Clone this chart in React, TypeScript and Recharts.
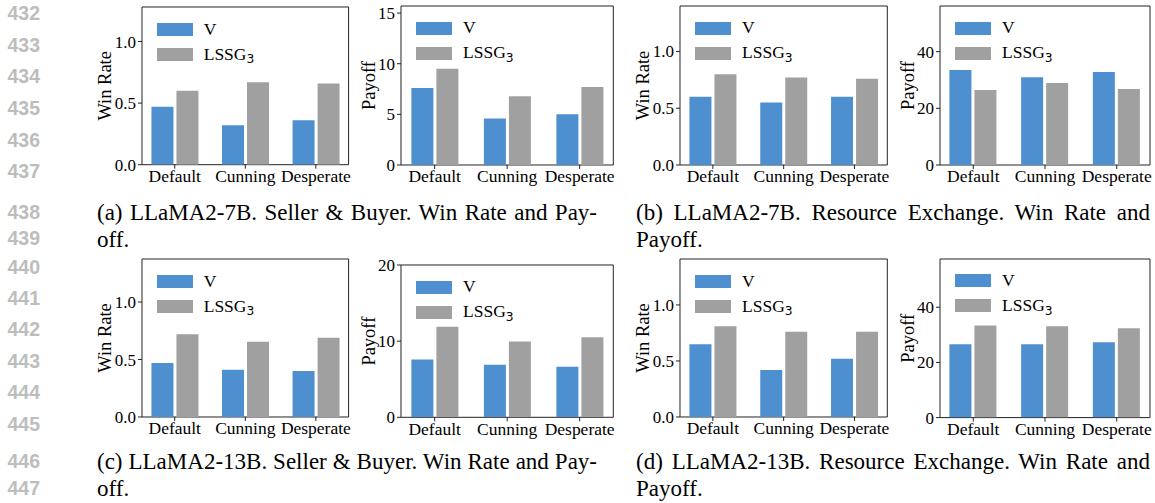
import React from "react";
import { BarChart, Bar, XAxis, YAxis, ReferenceArea, Legend } from "recharts";

// categories shared by every panel
const CATEGORIES = ["Default", "Cunning", "Desperate"];

// (a) LLaMA2-7B, Seller & Buyer
const A_WIN_V = [0.47, 0.32, 0.36];
const A_WIN_L = [0.6, 0.67, 0.66];
const A_PAY_V = [7.6, 4.6, 5.0];
const A_PAY_L = [9.5, 6.8, 7.7];

// (b) LLaMA2-7B, Resource Exchange
const B_WIN_V = [0.6, 0.55, 0.6];
const B_WIN_L = [0.8, 0.77, 0.76];
const B_PAY_V = [33.5, 31.0, 32.8];
const B_PAY_L = [26.5, 28.9, 26.8];

// (c) LLaMA2-13B, Seller & Buyer
const C_WIN_V = [0.47, 0.41, 0.4];
const C_WIN_L = [0.72, 0.655, 0.69];
const C_PAY_V = [7.6, 6.9, 6.65];
const C_PAY_L = [11.9, 9.95, 10.5];

// (d) LLaMA2-13B, Resource Exchange
const D_WIN_V = [0.65, 0.42, 0.52];
const D_WIN_L = [0.81, 0.76, 0.76];
const D_PAY_V = [26.6, 26.6, 27.3];
const D_PAY_L = [33.4, 33.1, 32.4];

const WIN_TICKS = [0, 0.5, 1.0];
const SERIES_ORDER = ["V", "LSSG3"];

const LINE_NUMBERS = ["432", "433", "434", "435", "436", "437", "438", "439", "440", "441", "442", "443", "444", "445", "446", "447"];
const LINE_Y = [13, 45, 76, 108, 140, 171, 212, 238, 267, 298, 329, 361, 392, 424, 461, 488];

const BLUE = "#4e8fcf";
const GRAY = "#a0a0a0";
const SERIF = "'Liberation Serif', 'Times New Roman', serif";

// matplotlib-like x limits around 3 bar groups
const X_MIN = -0.464;
const X_MAX = 2.464;

const renderLegend = (props: any) => {
  const items = [...(props.payload || [])].sort(
    (a: any, b: any) => SERIES_ORDER.indexOf(a.value) - SERIES_ORDER.indexOf(b.value)
  );
  return (
    <div style={{ fontFamily: SERIF, fontSize: 17.5, color: "#000" }}>
      {items.map((p: any) => (
        <div key={p.value} style={{ display: "flex", alignItems: "center", height: 25, lineHeight: 1 }}>
          <span style={{ display: "inline-block", width: 36, height: 13, background: p.color, marginRight: 11 }} />
          <span>
            {p.value === "LSSG3" ? (
              <>
                LSSG
                <span style={{ fontFamily: "'DejaVu Sans', sans-serif", fontSize: "0.7em", position: "relative", top: "0.3em" }}>3</span>
              </>
            ) : (
              p.value
            )}
          </span>
        </div>
      ))}
    </div>
  );
};

interface PanelProps {
  v: number[];
  l: number[];
  yLabel: string;
  yMax: number;
  yTicks: number[];
  decimals: number;
  left: number;
  right: number;
  top: number;
  bottom: number;
}

function Panel({ v, l, yLabel, yMax, yTicks, decimals, left, right, top, bottom }: PanelProps) {
  const data = CATEGORIES.map((c, i) => ({ idx: i, name: c, V: v[i], LSSG3: l[i] }));
  const LP = 48, TP = 12, RP = 3, BP = 30;
  const frameW = right - left;
  const frameH = bottom - top;
  const unit = frameW / (X_MAX - X_MIN);
  const barSize = Math.round(unit * 0.31);
  const labelDist = yLabel === "Payoff" ? 33 : 38;
  const tickStyle = { fill: "#000", fontSize: 17, fontFamily: SERIF };

  return (
    <div style={{ position: "absolute", left: left - LP, top: top - TP }}>
      <BarChart
        width={frameW + LP + RP}
        height={frameH + TP + BP}
        data={data}
        margin={{ top: TP, right: RP, bottom: 0, left: 0 }}
        barSize={barSize}
        barGap={3}
        style={{ fontFamily: SERIF }}
      >
        <XAxis
          type="number"
          dataKey="idx"
          domain={[X_MIN, X_MAX]}
          allowDataOverflow
          ticks={[0, 1, 2]}
          interval={0}
          tickFormatter={(i: number) => CATEGORIES[i]}
          height={BP}
          axisLine={false}
          tickSize={4}
          tickMargin={1}
          tickLine={{ stroke: "#222" }}
          tick={{ ...tickStyle, fontSize: 17.5 }}
        />
        <YAxis
          type="number"
          domain={[0, yMax]}
          allowDataOverflow
          ticks={yTicks}
          interval={0}
          tickFormatter={(t: number) => t.toFixed(decimals)}
          width={LP}
          axisLine={false}
          tickSize={4}
          tickMargin={2}
          tickLine={{ stroke: "#222" }}
          tick={tickStyle}
          label={{
            value: yLabel,
            angle: -90,
            position: "insideLeft",
            offset: LP - labelDist,
            style: { textAnchor: "middle", fontSize: 18.5, fill: "#000", fontFamily: SERIF },
          }}
        />
        <Bar dataKey="V" name="V" fill={BLUE} isAnimationActive={false} />
        <Bar dataKey="LSSG3" name="LSSG3" fill={GRAY} isAnimationActive={false} />
        <ReferenceArea
          x1={X_MIN}
          x2={X_MAX}
          y1={0}
          y2={yMax}
          fill="none"
          fillOpacity={0}
          stroke="#222"
          strokeWidth={1}
          ifOverflow="visible"
        />
        <Legend
          layout="vertical"
          align="center"
          verticalAlign="middle"
          content={renderLegend}
          wrapperStyle={{ left: LP + 15, top: TP + 9.5, width: "auto", height: "auto" }}
        />
      </BarChart>
    </div>
  );
}

function Caption({ left, top, width, line1, line2 }: { left: number; top: number; width: number; line1: string; line2: string }) {
  return (
    <div style={{ position: "absolute", left, top, width, fontFamily: SERIF, fontSize: 23, lineHeight: "27px", color: "#000" }}>
      <div style={{ textAlign: "justify", textAlignLast: "justify", whiteSpace: "nowrap" as any }}>{line1}</div>
      <div>{line2}</div>
    </div>
  );
}

export default function App() {
  return (
    <div style={{ position: "absolute", left: 0, top: 0, width: 1155, height: 503, background: "#fff", overflow: "hidden" }}>
      {LINE_NUMBERS.map((n, i) => (
        <div
          key={n}
          style={{
            position: "absolute",
            left: 0,
            width: 40,
            top: LINE_Y[i] - 11,
            height: 22,
            lineHeight: "22px",
            textAlign: "right",
            fontFamily: "'Liberation Sans', Arial, sans-serif",
            fontWeight: 700,
            fontSize: 19.5,
            color: "#bdbdbd",
          }}
        >
          {n}
        </div>
      ))}

      <Panel v={A_WIN_V} l={A_WIN_L} yLabel="Win Rate" yMax={1.28} yTicks={WIN_TICKS} decimals={1} left={141.7} right={348.3} top={7.3} bottom={165} />
      <Panel v={A_PAY_V} l={A_PAY_L} yLabel="Payoff" yMax={15.7} yTicks={[0, 5, 10, 15]} decimals={0} left={401} right={613.3} top={6} bottom={165} />
      <Panel v={B_WIN_V} l={B_WIN_L} yLabel="Win Rate" yMax={1.4} yTicks={WIN_TICKS} decimals={1} left={680} right={887.3} top={6} bottom={165} />
      <Panel v={B_PAY_V} l={B_PAY_L} yLabel="Payoff" yMax={56.1} yTicks={[0, 20, 40]} decimals={0} left={940} right={1150} top={6} bottom={165} />

      <Panel v={C_WIN_V} l={C_WIN_L} yLabel="Win Rate" yMax={1.374} yTicks={WIN_TICKS} decimals={1} left={141.7} right={348.3} top={259.3} bottom={417.3} />
      <Panel v={C_PAY_V} l={C_PAY_L} yLabel="Payoff" yMax={20} yTicks={[0, 10, 20]} decimals={0} left={401} right={613.3} top={265} bottom={417.3} />
      <Panel v={D_WIN_V} l={D_WIN_L} yLabel="Win Rate" yMax={1.41} yTicks={WIN_TICKS} decimals={1} left={680} right={887.3} top={259.3} bottom={417.3} />
      <Panel v={D_PAY_V} l={D_PAY_L} yLabel="Payoff" yMax={57.5} yTicks={[0, 20, 40]} decimals={0} left={940} right={1150} top={258.7} bottom={417.3} />

      <Caption left={97} top={199} width={500} line1="(a) LLaMA2-7B. Seller & Buyer. Win Rate and Pay-" line2="off." />
      <Caption left={636} top={199} width={514} line1="(b) LLaMA2-7B. Resource Exchange. Win Rate and" line2="Payoff." />
      <Caption left={97} top={448} width={500} line1="(c) LLaMA2-13B. Seller & Buyer. Win Rate and Pay-" line2="off." />
      <Caption left={636} top={448} width={514} line1="(d) LLaMA2-13B. Resource Exchange. Win Rate and" line2="Payoff." />
    </div>
  );
}
